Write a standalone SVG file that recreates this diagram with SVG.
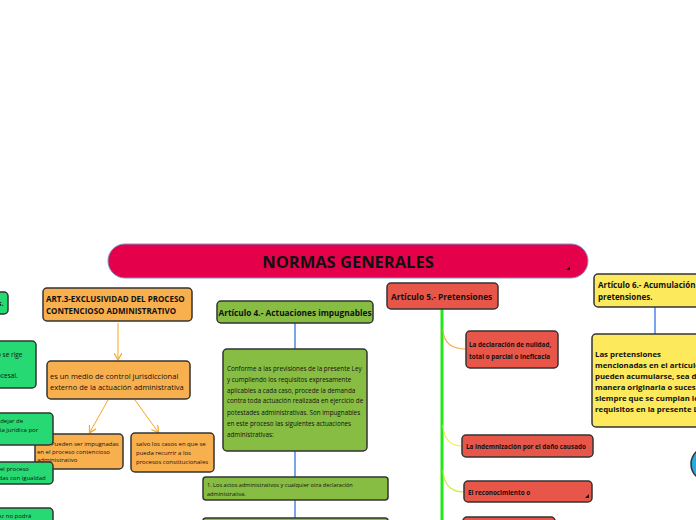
<svg xmlns="http://www.w3.org/2000/svg" width="696" height="520" viewBox="0 0 696 520">
<style>
text{font-family:"Open Sans","Noto Sans","Liberation Sans",sans-serif;fill:#111}
.b{font-weight:bold}
.box{stroke:#333;stroke-width:1.5}
.or{fill:#f8b04f}
.gr{fill:#88bd43}
.lg{fill:#27d972}
.rd{fill:#e8564a}
.ye{fill:#fde95c}
.arr{stroke:#f5a623;stroke-width:1;fill:none;marker-end:url(#ah)}
.bl{stroke:#4f86e8;stroke-width:1.5;fill:none}
</style>
<defs>
<marker id="ah" markerWidth="8" markerHeight="8" refX="6" refY="4" orient="auto" markerUnits="userSpaceOnUse">
<path d="M0,0 L7,4 L0,8" fill="none" stroke="#f5a623" stroke-width="1.2"/>
</marker>
</defs>
<rect width="696" height="520" fill="#fff"/>

<g id="connectors">
<line class="arr" x1="118" y1="323" x2="118" y2="359"/>
<line class="arr" x1="108" y1="400" x2="90" y2="432"/>
<line class="arr" x1="135" y1="400" x2="158" y2="432"/>
<line class="bl" x1="295" y1="323" x2="295" y2="349"/>
<line class="bl" x1="295" y1="451" x2="295" y2="477"/>
<line class="bl" x1="295" y1="500" x2="295" y2="518"/>
<line class="bl" x1="655" y1="307" x2="655" y2="334"/>
<line x1="442" y1="309" x2="442" y2="520" stroke="#22e81a" stroke-width="3"/>
<path d="M443,330 Q444,349 466,349" fill="none" stroke="#f7a94a" stroke-width="1.2"/>
<path d="M443,425 Q444,446 462,446" fill="none" stroke="#f2ef55" stroke-width="1.2"/>
<path d="M443,470 Q444,492 464,492" fill="none" stroke="#c6f03a" stroke-width="1.2"/>
</g>

<g id="banner">
<rect x="108" y="244" width="480" height="34" rx="17" fill="#e5004b" stroke="#7894c4" stroke-width="1"/>
<text x="348" y="268" class="b" font-size="16.5" text-anchor="middle">NORMAS GENERALES</text>
<polygon points="570,266 570,270 566,270" fill="#111"/>
</g>

<g id="art3">
<rect class="box or" x="43" y="288" width="149" height="33" rx="4"/>
<text class="b" font-size="8" x="46" y="302">ART.3-EXCLUSIVIDAD DEL PROCESO</text>
<text class="b" font-size="8" x="46" y="314">CONTENCIOSO ADMINISTRATIVO</text>
</g>
<g id="medio">
<rect class="box or" x="47" y="361" width="143" height="38" rx="4"/>
<text font-size="7.5" x="50" y="379">es un medio de control jurisdiccional</text>
<text font-size="7.5" x="50" y="390">externo de la actuación administrativa</text>
</g>
<g id="pueden">
<rect class="box or" x="35" y="434" width="88" height="35" rx="4"/>
<text font-size="6" x="51" y="446">Pueden ser impugnadas</text>
<text font-size="6" x="37" y="454">en el proceso contencioso</text>
<text font-size="6" x="37" y="462">administrativo</text>
</g>
<g id="salvo">
<rect class="box or" x="131" y="433" width="83" height="39" rx="4"/>
<text font-size="6" x="136" y="446">salvo los casos en que se</text>
<text font-size="6" x="136" y="455">pueda recurrir a los</text>
<text font-size="6" x="136" y="464">procesos constitucionales</text>
</g>

<g id="left1">
<rect class="box lg" x="-20" y="292" width="28" height="22" rx="4"/>
<text font-size="7" class="b" x="-2" y="306">s.</text>
</g>
<g id="left2">
<rect class="box lg" x="-40" y="341" width="76" height="47" rx="4"/>
<text font-size="6.5" x="-3" y="357">o se rige</text>
<text font-size="6.5" x="-3" y="378">ocesal.</text>
</g>
<g id="left3">
<rect class="box lg" x="-40" y="413" width="93" height="32" rx="4"/>
<text font-size="6" x="-5" y="423">o dejar de</text>
<text font-size="6" x="-3" y="432">cia jurídica por</text>
</g>
<g id="left4">
<rect class="box lg" x="-40" y="462" width="93" height="22" rx="4"/>
<text font-size="6" x="0" y="471">el proceso</text>
<text font-size="6" x="-3" y="480">ldas con igualdad</text>
</g>
<g id="left5">
<rect class="box lg" x="-40" y="508" width="93" height="30" rx="4"/>
<text font-size="6" x="-2" y="518">ez no podrá</text>
</g>

<g id="art4">
<rect class="box gr" x="217" y="301" width="156" height="22" rx="4"/>
<text class="b" font-size="8.3" x="295" y="315.5" text-anchor="middle">Artículo 4.- Actuaciones impugnables</text>
</g>
<g id="conforme">
<rect class="box gr" x="223" y="349" width="144" height="102" rx="4"/>
<text font-size="6.3" x="227" y="371">Conforme a las previsiones de la presente Ley</text>
<text font-size="6.3" x="227" y="382">y cumpliendo los requisitos expresamente</text>
<text font-size="6.3" x="227" y="392.5">aplicables a cada caso, procede la demanda</text>
<text font-size="6.3" x="227" y="403">contra toda actuación realizada en ejercicio de</text>
<text font-size="6.3" x="227" y="414.5">potestades administrativas. Son impugnables</text>
<text font-size="6.3" x="227" y="425.5">en este proceso las siguientes actuaciones</text>
<text font-size="6.3" x="227" y="436.5">administrativas:</text>
</g>
<g id="actos">
<rect class="box gr" x="203" y="477" width="185" height="23" rx="3"/>
<text font-size="5.6" x="207" y="487">1. Los actos administrativos y cualquier otra declaración</text>
<text font-size="5.6" x="207" y="495.5">administrativa.</text>
</g>
<g id="art4next">
<rect class="box gr" x="203" y="518" width="185" height="20" rx="3"/>
</g>

<g id="art5">
<rect class="box rd" x="387" y="283" width="111" height="26" rx="4"/>
<text class="b" font-size="8.3" x="391" y="300">Artículo 5.- Pretensiones</text>
</g>
<g id="nulidad">
<rect class="box rd" x="466" y="331" width="92" height="37" rx="4"/>
<text class="b" font-size="6.3" x="469" y="347">La declaración de nulidad,</text>
<text class="b" font-size="6.3" x="469" y="359">total o parcial o ineficacia</text>
</g>
<g id="indemnizacion">
<rect class="box rd" x="462" y="435" width="131" height="22" rx="4"/>
<text class="b" font-size="6.3" x="466" y="449">La indemnización por el daño causado</text>
</g>
<g id="reconocimiento">
<rect class="box rd" x="464" y="481" width="128" height="21" rx="4"/>
<text class="b" font-size="6.3" x="468" y="494.5">El reconocimiento o</text>
<polygon points="589,494 589,498 585,498" fill="#111"/>
</g>
<g id="art5next">
<rect class="box rd" x="463" y="517" width="92" height="20" rx="4"/>
</g>

<g id="art6">
<rect class="box ye" x="594" y="274" width="120" height="33" rx="4"/>
<text class="b" font-size="8" x="598" y="288">Artículo 6.- Acumulación de</text>
<text class="b" font-size="8" x="598" y="300">pretensiones.</text>
</g>
<g id="pretensiones">
<rect class="box ye" x="592" y="334" width="130" height="93" rx="4"/>
<text class="b" font-size="7.8" x="595" y="357">Las pretensiones</text>
<text class="b" font-size="7.8" x="595" y="368">mencionadas en el artículo anterior</text>
<text class="b" font-size="7.8" x="595" y="379">pueden acumularse, sea de</text>
<text class="b" font-size="7.8" x="595" y="390">manera originaria o sucesiva,</text>
<text class="b" font-size="7.8" x="595" y="401">siempre que se cumplan los</text>
<text class="b" font-size="7.8" x="595" y="412">requisitos  en la presente Ley</text>
</g>
<g id="circle">
<circle cx="708" cy="464" r="17" fill="#27a9e1" stroke="#333" stroke-width="1.5"/>
</g>
</svg>
